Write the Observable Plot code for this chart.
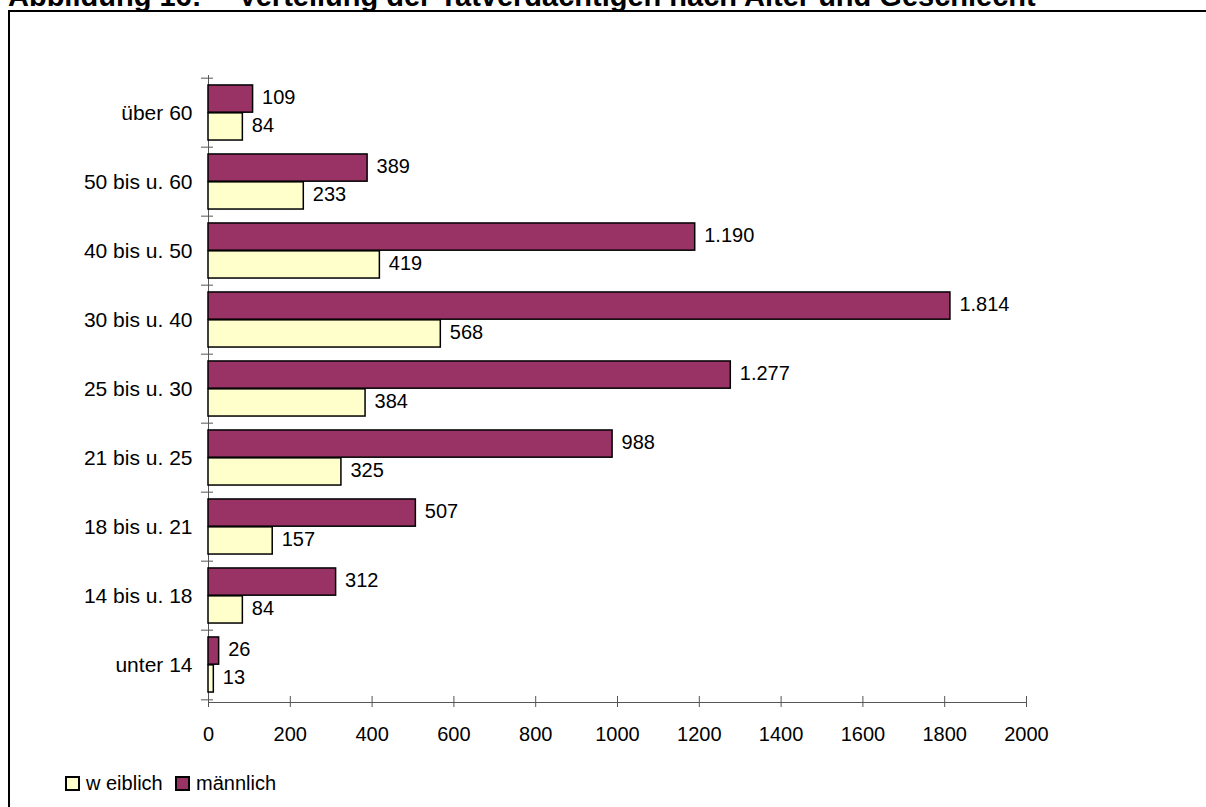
<!DOCTYPE html>
<html lang="de">
<head>
<meta charset="utf-8">
<script src="https://cdn.jsdelivr.net/npm/d3@7"></script>
<script src="https://cdn.jsdelivr.net/npm/@observablehq/plot@0.6"></script>
<style>
  html, body { margin: 0; padding: 0; background: #fff; overflow: hidden; }
  #wrap { position: relative; width: 1206px; height: 807px; font-family: "Liberation Sans", Arial, sans-serif; color: #000; }
  #chart { position: absolute; left: 0; top: 0; }
  #frame { position: absolute; left: 8px; top: 10px; width: 1400px; height: 1000px; border-top: 2px solid #000; border-left: 2px solid #000; box-sizing: border-box; pointer-events: none; }
  .title { position: absolute; top: -18.5px; font-size: 29px; line-height: 29px; font-weight: bold; white-space: nowrap; }
  .lg-box { position: absolute; top: 776px; width: 15px; height: 15px; box-sizing: border-box; border: 2px solid #000; }
  .lg-text { position: absolute; top: 771px; font-size: 20px; line-height: 24px; white-space: nowrap; }
</style>
</head>
<body>
<div id="wrap">
  <div id="chart"></div>
  <div id="frame"></div>
</div>
<script>
// ---- data ----
const titleParts = ["Abbildung 16:", "Verteilung der Tatverdächtigen nach Alter und Geschlecht"];
const categories = ["unter 14", "14 bis u. 18", "18 bis u. 21", "21 bis u. 25", "25 bis u. 30", "30 bis u. 40", "40 bis u. 50", "50 bis u. 60", "über 60"];
const maennlich = [26, 312, 507, 988, 1277, 1814, 1190, 389, 109];
const weiblich = [13, 84, 157, 325, 384, 568, 419, 233, 84];
const xTicks = [0, 200, 400, 600, 800, 1000, 1200, 1400, 1600, 1800, 2000];
const seriesNames = ["w eiblich", "männlich"];
const seriesColors = ["#FFFFCC", "#993366"];

// ---- layout ----
const W = 1206, H = 807;
const mt = 75, mb = 105, ml = 208, mr = 180;
const bw = (H - mt - mb) / categories.length;
const pad = bw * 0.1;
const half = (bw - 2 * pad) / 2;
const font = "Liberation Sans, Arial, sans-serif";

const de = d3.formatLocale({decimal: ",", thousands: ".", grouping: [3], currency: ["", " €"]});
const fmt = de.format(",d");

const rows = categories.map((c, i) => ({cat: c, m: maennlich[i], w: weiblich[i]}));

const maleDy = pad + half / 2 - bw / 2 - 1.5;
const femaleDy = bw / 2 - pad - half / 2 - 1.5;

const plot = Plot.plot({
  width: W,
  height: H,
  marginTop: mt,
  marginBottom: mb,
  marginLeft: ml,
  marginRight: mr,
  style: {fontFamily: font, fontSize: "20px", color: "#000", background: "transparent", overflow: "visible"},
  x: {domain: [0, 2000]},
  y: {domain: categories.slice().reverse(), padding: 0},
  marks: [
    Plot.frame({anchor: "bottom", stroke: "#555"}),
    Plot.ruleX([0], {stroke: "#555"}),
    Plot.axisY({tickSize: 12, dx: 5, dy: -bw / 2, tickFormat: () => "", stroke: "#555", label: null}),
    Plot.axisY({ticks: [categories[0]], tickSize: 12, dx: 5, dy: bw / 2, tickFormat: () => "", stroke: "#555", label: null}),
    Plot.axisY({tickSize: 0, tickPadding: 16, fontSize: 21, label: null}),
    Plot.axisX({ticks: xTicks, tickSize: 11, dy: -6, tickFormat: () => "", stroke: "#555", label: null}),
    Plot.axisX({ticks: xTicks, tickSize: 0, tickPadding: 24, fontSize: 20, tickFormat: d => String(d), label: null}),
    Plot.barX(rows, {x: "m", y: "cat", fill: seriesColors[1], stroke: "#000", strokeWidth: 1.5,
      insetTop: pad, insetBottom: bw - pad - half}),
    Plot.barX(rows, {x: "w", y: "cat", fill: seriesColors[0], stroke: "#000", strokeWidth: 1.5,
      insetTop: pad + half, insetBottom: pad}),
    Plot.text(rows, {x: "m", y: "cat", text: d => fmt(d.m), dx: 9, dy: maleDy, textAnchor: "start", fontSize: 20, fill: "#000"}),
    Plot.text(rows, {x: "w", y: "cat", text: d => fmt(d.w), dx: 9, dy: femaleDy, textAnchor: "start", fontSize: 20, fill: "#000"})
  ]
});
document.getElementById("chart").appendChild(plot);

const wrap = document.getElementById("wrap");
// title (clipped at the top, as in the reference)
[[titleParts[0], 8], [titleParts[1], 238]].forEach(([t, x]) => {
  const s = document.createElement("span");
  s.className = "title";
  s.style.left = x + "px";
  s.textContent = t;
  wrap.appendChild(s);
});
// legend
const legendPos = [[65, 86], [175, 196]];
seriesNames.forEach((name, i) => {
  const b = document.createElement("div");
  b.className = "lg-box";
  b.style.left = legendPos[i][0] + "px";
  b.style.background = seriesColors[i];
  wrap.appendChild(b);
  const t = document.createElement("span");
  t.className = "lg-text";
  t.style.left = legendPos[i][1] + "px";
  t.textContent = name;
  wrap.appendChild(t);
});
</script>
</body>
</html>
